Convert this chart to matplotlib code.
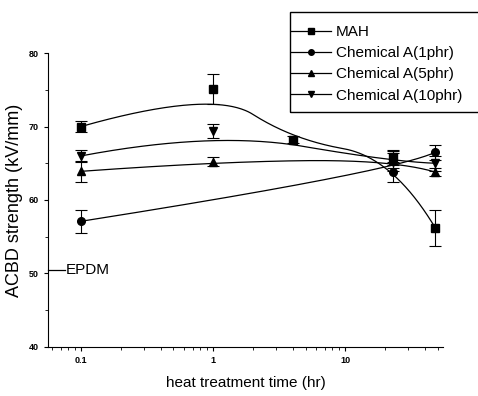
import numpy as np
import matplotlib
matplotlib.use('Agg')
import matplotlib.pyplot as plt
from matplotlib.patches import Rectangle

plt.rcParams['font.family'] = ['Liberation Sans', 'DejaVu Sans']

# heat treatment time (hr) and ACBD strength (kV/mm)
mah_x = [0.1, 1, 4, 23, 48]
mah_y = [70.0, 75.1, 68.2, 65.8, 56.2]
mah_err = [0.8, 2.0, 0.5, 1.0, 2.5]

c1_x = [0.1, 23, 48]
c1_y = [57.1, 63.8, 66.5]
c1_err = [1.6, 1.4, 1.0]

c5_x = [0.1, 1, 23, 48]
c5_y = [63.9, 65.2, 65.5, 63.8]
c5_err = [1.4, 0.6, 1.2, 0.6]

c10_x = [0.1, 1, 23, 48]
c10_y = [66.0, 69.4, 65.2, 65.0]
c10_err = [0.8, 1.0, 1.2, 1.0]

series = [
    ('MAH', mah_x, mah_y, mah_err, 's'),
    ('Chemical A(1phr)', c1_x, c1_y, c1_err, 'o'),
    ('Chemical A(5phr)', c5_x, c5_y, c5_err, '^'),
    ('Chemical A(10phr)', c10_x, c10_y, c10_err, 'v'),
]


def bspline(px, py, k=2, num=300):
    # clamped B-spline using the data points as control points
    P = np.column_stack([px, py])
    n = len(P)
    k = min(k, n - 1)
    inner = np.linspace(0, 1, n - k + 1)[1:-1]
    t = np.concatenate([np.zeros(k + 1), inner, np.ones(k + 1)])
    u = np.linspace(0, 1, num)
    u[-1] = 1 - 1e-9
    N = np.zeros((num, len(t) - 1))
    for i in range(len(t) - 1):
        N[:, i] = (u >= t[i]) & (u < t[i + 1])
    for d in range(1, k + 1):
        Nn = np.zeros((num, len(t) - d - 1))
        for i in range(len(t) - d - 1):
            a = 0 if t[i + d] == t[i] else (u - t[i]) / (t[i + d] - t[i])
            b = 0 if t[i + d + 1] == t[i + 1] else (t[i + d + 1] - u) / (t[i + d + 1] - t[i + 1])
            Nn[:, i] = a * N[:, i] + b * N[:, i + 1]
        N = Nn
    C = N @ P
    return C[:, 0], C[:, 1]


fig = plt.figure(figsize=(4.78, 3.96), dpi=100)
ax = fig.add_axes([0.100, 0.124, 0.827, 0.742])

handles = []
for name, x, y, e, m in series:
    sx, sy = bspline(np.log10(x), y)
    ax.plot(10 ** sx, sy, color='black', lw=0.9)
    ax.errorbar(x, y, yerr=e, fmt=m, color='black', ms=5.5, capsize=4,
                elinewidth=0.8, capthick=0.8)
    h, = ax.plot([], [], color='black', marker=m, ms=4, lw=0.9)
    handles.append(h)

ax.set_xscale('log')
ax.set_xlim(0.056, 55)
ax.set_ylim(40, 80)
ax.set_yticks([40, 50, 60, 70, 80])
ax.set_yticks([45, 55, 65, 75], minor=True)
ax.set_xticks([0.1, 1, 10])
ax.set_xticklabels(['0.1', '1', '10'])
ax.tick_params(labelsize=6.5, length=3, width=0.8)
ax.tick_params(which='minor', length=2, width=0.6)
for lab in ax.get_xticklabels() + ax.get_yticklabels():
    lab.set_fontweight('bold')
for s in ['top', 'right']:
    ax.spines[s].set_visible(False)

# EPDM reference
ax.plot([0.056, 0.076], [50.4, 50.4], color='black', lw=0.9, clip_on=False)
ax.text(0.077, 50.4, 'EPDM', fontsize=11, va='center')

ax.set_xlabel('heat treatment time (hr)', fontsize=11, labelpad=8)
ax.set_ylabel('ACBD strength (kV/mm)', fontsize=13, labelpad=4)

leg = ax.legend(handles, [s[0] for s in series], loc='upper left',
                bbox_to_anchor=(291 / 478, 1 - 25 / 396),
                bbox_transform=fig.transFigure,
                fontsize=11, frameon=False,
                handlelength=2.6, borderpad=0.0, borderaxespad=0,
                labelspacing=0.47, handletextpad=0.35)
fig.patches.append(Rectangle((290 / 478, 1 - 112 / 396), 200 / 478, 100 / 396,
                             transform=fig.transFigure, fill=False,
                             edgecolor='black', lw=1.0))

fig.savefig('out.png', dpi=100)
